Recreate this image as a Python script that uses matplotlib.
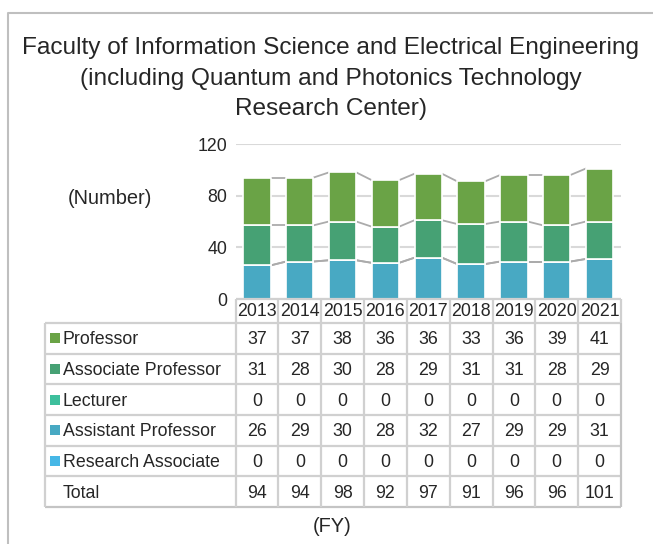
import matplotlib
matplotlib.use("Agg")
import matplotlib.pyplot as plt
from matplotlib.lines import Line2D
import numpy as np

plt.rcParams['font.family'] = ['Liberation Sans', 'DejaVu Sans']

years = ["2013", "2014", "2015", "2016", "2017", "2018", "2019", "2020", "2021"]
professor = [37, 37, 38, 36, 36, 33, 36, 39, 41]
associate_professor = [31, 28, 30, 28, 29, 31, 31, 28, 29]
lecturer = [0, 0, 0, 0, 0, 0, 0, 0, 0]
assistant_professor = [26, 29, 30, 28, 32, 27, 29, 29, 31]
research_associate = [0, 0, 0, 0, 0, 0, 0, 0, 0]

row_names = ["Professor", "Associate Professor", "Lecturer",
             "Assistant Professor", "Research Associate"]
row_values = [professor, associate_professor, lecturer,
              assistant_professor, research_associate]
row_colors = ["#6aa346", "#46a174", "#3dbf9c", "#48a9c3", "#46b7e6"]

title = ("Faculty of Information Science and Electrical Engineering\n"
         "(including Quantum and Photonics Technology\n"
         "Research Center)")

W, H = 653, 544
TXT = "#262626"
GRID = "#d9d9d9"
CELL = "#d0d0d0"
FS = 12.8

fig = plt.figure(figsize=(W / 100, H / 100), dpi=100)


def fx(px):
    return px / W


def fy(py):
    return 1 - py / H


# outer frame (top and left edges)
fig.add_artist(Line2D([fx(7.5), fx(7.5), fx(W)], [fy(H), fy(12.5), fy(12.5)],
                      color="#bfbfbf", lw=1.5, transform=fig.transFigure))

fig.text(fx(331), fy(78.5), title, ha="center", va="center",
         fontsize=17.6, color=TXT, linespacing=1.5)

# ---- stacked bar chart ----
ax_left, ax_right = 235.5, 621
y0_px, y120_px = 299, 144
ax = fig.add_axes([fx(ax_left), fy(y0_px), fx(ax_right - ax_left),
                   (y0_px - y120_px) / H])
x = np.arange(len(years))
bar_w = 0.64

stack_order = [4, 3, 2, 1, 0]  # bottom to top
bottom = np.zeros(len(years))
tops = []
for idx in stack_order:
    vals = np.array(row_values[idx], dtype=float)
    ax.bar(x, vals, bottom=bottom, width=bar_w, color=row_colors[idx],
           edgecolor="white", linewidth=1.2, zorder=3)
    bottom = bottom + vals
    tops.append(bottom.copy())

# series lines between neighbouring bars
for top in tops:
    for i in range(len(years) - 1):
        ax.plot([x[i] + bar_w / 2, x[i + 1] - bar_w / 2], [top[i], top[i + 1]],
                color="#ababab", lw=1.3, zorder=2, solid_capstyle="butt")

ax.set_xlim(-0.5, len(years) - 0.5)
ax.set_ylim(0, 120)
ax.set_yticks([0, 40, 80, 120])
ax.set_yticklabels(["0", "40", "80", "120"])
ax.yaxis.grid(True, color=GRID, lw=1.5, zorder=0)
ax.set_axisbelow(True)
ax.tick_params(axis="y", length=0, pad=6, labelsize=FS, labelcolor=TXT)
ax.tick_params(axis="x", length=0, labelbottom=False)
for s in ax.spines.values():
    s.set_visible(False)

fig.text(fx(110), fy(199), "(Number)", ha="center", va="center",
         fontsize=14.4, color=TXT)

# ---- data table ----
tab_left, tab_top, tab_bottom = 45, 299, 507
px_per_unit = (ax_right - ax_left) / len(years)
tx = fig.add_axes([fx(tab_left), fy(tab_bottom), fx(ax_right - tab_left),
                   (tab_bottom - tab_top) / H])
tx.set_xlim(-0.5 - (ax_left - tab_left) / px_per_unit, len(years) - 0.5)
tx.set_ylim(tab_bottom - tab_top, 0)
tx.axis("off")

x_lab_left = tx.get_xlim()[0]
head_h = 24
row_h = (tab_bottom - tab_top - head_h) / 6
n = len(years)


def hline(y, x_a, x_b, c=CELL):
    tx.plot([x_a, x_b], [y, y], color=c, lw=1.6, clip_on=False,
            solid_capstyle="butt")


def vline(xx, y_a, y_b, c=CELL):
    tx.plot([xx, xx], [y_a, y_b], color=c, lw=1.6, clip_on=False,
            solid_capstyle="butt")


# header (year) row
hline(0, -0.5, n - 0.5)
for i in range(n + 1):
    vline(i - 0.5, 0, head_h)
for i, yr in enumerate(years):
    tx.text(i, head_h / 2 + 1, yr, ha="center", va="center",
            fontsize=FS, color=TXT)

# body rows
for r in range(7):
    c = "#c4c4c4" if r == 6 else CELL
    hline(head_h + r * row_h, x_lab_left, n - 0.5, c)
vline(x_lab_left, head_h, head_h + 6 * row_h)
for i in range(n):
    vline(i - 0.5, head_h, head_h + 6 * row_h)
vline(n - 0.5, head_h, head_h + 6 * row_h, "#c4c4c4")

label_x = x_lab_left + (63 - tab_left) / px_per_unit
sq_x = x_lab_left + (55 - tab_left) / px_per_unit
totals = np.sum(np.array(row_values), axis=0)
for r in range(6):
    yc = head_h + (r + 0.5) * row_h + 1.5
    if r < 5:
        name, vals = row_names[r], row_values[r]
        tx.plot([sq_x], [yc - 1.5], marker="s", ms=6.5, color=row_colors[r],
                clip_on=False, mew=0)
    else:
        name, vals = "Total", totals
    tx.text(label_x, yc, name, ha="left", va="center", fontsize=FS,
            color=TXT)
    for i, v in enumerate(vals):
        tx.text(i, yc, str(int(v)), ha="center", va="center",
                fontsize=FS, color=TXT)

fig.text(fx(332), fy(527), "(FY)", ha="center", va="center",
         fontsize=14.4, color=TXT)

fig.savefig("out.png", dpi=100)
